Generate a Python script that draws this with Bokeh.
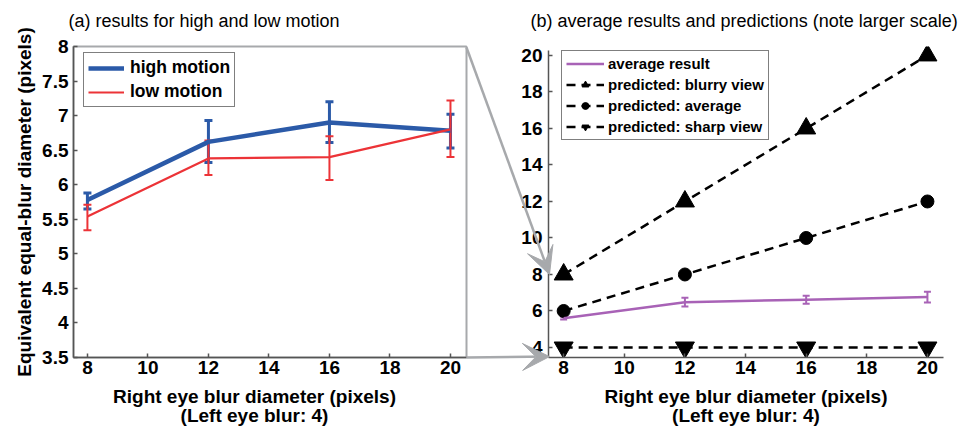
from bokeh.plotting import figure
from bokeh.layouts import GridBox
from bokeh.models import (ColumnDataSource, Whisker, TeeHead, Legend, LegendItem,
                          FixedTicker, Label, Arrow, VeeHead, Range1d)
from bokeh.embed import file_html
from bokeh.resources import INLINE

# ---------------- data ----------------
blur_right = [8, 12, 16, 20]

high_mean = [5.78, 6.62, 6.90, 6.78]
high_lo = [5.65, 6.32, 6.61, 6.53]
high_hi = [5.88, 6.93, 7.20, 7.02]

low_mean = [5.54, 6.38, 6.40, 6.80]
low_lo = [5.34, 6.14, 6.07, 6.40]
low_hi = [5.71, 6.64, 6.70, 7.22]

avg_mean = [5.60, 6.48, 6.62, 6.76]
avg_lo = [5.53, 6.25, 6.40, 6.47]
avg_hi = [5.68, 6.72, 6.84, 7.06]

pred_blurry = [8, 12, 16, 20]
pred_average = [6, 8, 10, 12]
pred_sharp = [4, 4, 4, 4]

x_ticks = [8, 10, 12, 14, 16, 18, 20]
left_y_ticks = [3.5, 4, 4.5, 5, 5.5, 6, 6.5, 7, 7.5, 8]
left_y_labels = ["3.5", "4", "4.5", "5", "5.5", "6", "6.5", "7", "7.5", "8"]
right_y_ticks = [4, 6, 8, 10, 12, 14, 16, 18, 20]

title_a = "(a)  results for high and low motion"
title_b = "(b)  average results and predictions (note larger scale)"
x_label_1 = "Right eye blur diameter (pixels)"
x_label_2 = "(Left eye blur: 4)"
y_label = "Equivalent equal-blur diameter (pixels)"

# ---------------- style / layout ----------------
FONT = "Liberation Sans"
BLUE = "#2b5aa8"
RED = "#ec3337"
PURPLE = "#a862b6"
GRAY = "#a7a9ac"
AXIS = "#555555"

W, H = 979, 427
SPLIT = 468                      # left canvas ends here
L_FRAME = (73, 466, 46, 357)     # page pixels: left, right, top, bottom
R_FRAME = (548, 943, 46, 357)
L_X = (7.54, 20.53)
L_Y = (3.5, 8.0)
R_X = (7.5, 20.53)
R_Y = (3.452, 20.49)


def to_px(x, y, frame, xr, yr):
    px = frame[0] + (x - xr[0]) * (frame[1] - frame[0]) / (xr[1] - xr[0])
    py = frame[3] - (y - yr[0]) * (frame[3] - frame[2]) / (yr[1] - yr[0])
    return px, py


def style_axes(p):
    for ax in (p.xaxis[0], p.yaxis[0]):
        ax.axis_line_color = AXIS
        ax.axis_line_width = 1.5
        ax.major_tick_line_color = AXIS
        ax.major_tick_line_width = 1.5
        ax.major_tick_in = 4
        ax.major_tick_out = 0
        ax.minor_tick_line_color = None
        ax.major_label_text_font = FONT
        ax.major_label_text_font_style = "bold"
        ax.major_label_text_font_size = "19px"
        ax.major_label_text_color = "black"
    p.xaxis[0].major_label_standoff = 3
    p.yaxis[0].major_label_standoff = 5
    p.xgrid.visible = False
    p.ygrid.visible = False
    p.background_fill_color = None
    p.border_fill_color = None
    p.frame_align = False


# ---------------- left panel ----------------
pl = figure(width=SPLIT, height=H, output_backend="svg", toolbar_location=None,
            x_range=Range1d(*L_X), y_range=Range1d(*L_Y),
            min_border_left=L_FRAME[0], min_border_right=SPLIT - L_FRAME[1],
            min_border_top=L_FRAME[2], min_border_bottom=H - L_FRAME[3])
pl.outline_line_color = GRAY
pl.outline_line_width = 2
style_axes(pl)
pl.xaxis[0].ticker = FixedTicker(ticks=x_ticks)
pl.yaxis[0].ticker = FixedTicker(ticks=left_y_ticks)
pl.yaxis[0].major_label_overrides = {t: s for t, s in zip(left_y_ticks, left_y_labels)}
pl.yaxis[0].axis_label = y_label
pl.yaxis[0].axis_label_text_font = FONT
pl.yaxis[0].axis_label_text_font_style = "bold"
pl.yaxis[0].axis_label_text_font_size = "19px"
pl.yaxis[0].axis_label_text_color = "black"
pl.yaxis[0].axis_label_standoff = 4

src_h = ColumnDataSource(dict(x=blur_right, y=high_mean, lo=high_lo, hi=high_hi))
src_l = ColumnDataSource(dict(x=blur_right, y=low_mean, lo=low_lo, hi=low_hi))

pl.add_layout(Whisker(source=src_h, base="x", lower="lo", upper="hi",
                      line_color=BLUE, line_width=3,
                      upper_head=TeeHead(size=8, line_color=BLUE, line_width=3),
                      lower_head=TeeHead(size=8, line_color=BLUE, line_width=3)))
r_high = pl.line("x", "y", source=src_h, line_color=BLUE, line_width=4.5)
pl.add_layout(Whisker(source=src_l, base="x", lower="lo", upper="hi",
                      line_color=RED, line_width=2,
                      upper_head=TeeHead(size=8, line_color=RED, line_width=2),
                      lower_head=TeeHead(size=8, line_color=RED, line_width=2)))
r_low = pl.line("x", "y", source=src_l, line_color=RED, line_width=2.2)

LF_H = L_FRAME[3] - L_FRAME[2]
leg_l = Legend(items=[LegendItem(label="high motion", renderers=[r_high]),
                      LegendItem(label="low motion", renderers=[r_low])],
               location=(10, LF_H - 10 - 51), orientation="vertical",
               border_line_color="black", border_line_width=1.5,
               label_text_font=FONT, label_text_font_style="bold",
               label_text_font_size="17.5px", label_text_color="black",
               glyph_width=36, glyph_height=20, label_height=20,
               label_standoff=6, spacing=3, padding=4, margin=0,
               background_fill_color="white", background_fill_alpha=1.0)
pl.add_layout(leg_l)

# ---------------- right panel ----------------
pr = figure(width=W - SPLIT, height=H, output_backend="svg", toolbar_location=None,
            x_range=Range1d(*R_X), y_range=Range1d(*R_Y),
            min_border_left=R_FRAME[0] - SPLIT, min_border_right=W - R_FRAME[1],
            min_border_top=R_FRAME[2], min_border_bottom=H - R_FRAME[3])
pr.outline_line_color = None
style_axes(pr)
pr.xaxis[0].ticker = FixedTicker(ticks=x_ticks)
pr.yaxis[0].ticker = FixedTicker(ticks=right_y_ticks)
pr.yaxis[0].bounds = (R_Y[0], 20.27)
pr.yaxis[0].major_label_standoff = 6

src_a = ColumnDataSource(dict(x=blur_right, y=avg_mean, lo=avg_lo, hi=avg_hi))
src_p = ColumnDataSource(dict(x=blur_right, blurry=pred_blurry, avg=pred_average, sharp=pred_sharp))

DASH = "9 6"
rb_l = pr.line("x", "blurry", source=src_p, line_color="black", line_width=2.5, line_dash=DASH)
rb_m = pr.scatter("x", "blurry", source=src_p, marker="triangle", size=19, color="black")
ra_l = pr.line("x", "avg", source=src_p, line_color="black", line_width=2.5, line_dash=DASH)
ra_m = pr.scatter("x", "avg", source=src_p, marker="circle", size=13, color="black")
rs_l = pr.line("x", "sharp", source=src_p, line_color="black", line_width=2.5, line_dash=DASH)
rs_m = pr.scatter("x", "sharp", source=src_p, marker="inverted_triangle", size=19, color="black")

pr.add_layout(Whisker(source=src_a, base="x", lower="lo", upper="hi",
                      line_color=PURPLE, line_width=2,
                      upper_head=TeeHead(size=7, line_color=PURPLE, line_width=2),
                      lower_head=TeeHead(size=7, line_color=PURPLE, line_width=2)))
r_avg = pr.line("x", "y", source=src_a, line_color=PURPLE, line_width=2.5)

RF_H = R_FRAME[3] - R_FRAME[2]
leg_r = Legend(items=[LegendItem(label="average result", renderers=[r_avg]),
                      LegendItem(label="predicted: blurry view", renderers=[rb_l, rb_m]),
                      LegendItem(label="predicted: average", renderers=[ra_l, ra_m]),
                      LegendItem(label="predicted: sharp view", renderers=[rs_l, rs_m])],
               location=(13, RF_H - 9 - 85), orientation="vertical",
               border_line_color="black", border_line_width=1.5,
               label_text_font=FONT, label_text_font_style="bold",
               label_text_font_size="15px", label_text_color="black",
               glyph_width=38, glyph_height=17, label_height=17,
               label_standoff=4, spacing=4, padding=4, margin=0,
               background_fill_color="white", background_fill_alpha=1.0)
pr.add_layout(leg_r)

# ---------------- overlay: panel titles, x-axis captions, zoom arrows ----------------
ov = figure(width=W, height=H, output_backend="svg", toolbar_location=None,
            x_range=Range1d(0, W), y_range=Range1d(H, 0),
            x_axis_type=None, y_axis_type=None,
            min_border_left=0, min_border_right=0, min_border_top=0, min_border_bottom=0)
ov.outline_line_color = None
ov.background_fill_color = None
ov.border_fill_color = None
ov.xgrid.visible = False
ov.ygrid.visible = False
ov.frame_align = False

for (lx, txt) in ((68, title_a), (530, title_b)):
    ov.add_layout(Label(x=lx, y=20, text=txt, text_font=FONT, text_font_size="18px",
                        text_baseline="middle", text_align="left", text_color="black"))
for cx in (254, (R_FRAME[0] + R_FRAME[1]) / 2):
    for (cy, txt) in ((396, x_label_1), (415, x_label_2)):
        ov.add_layout(Label(x=cx, y=cy, text=txt, text_font=FONT, text_font_style="bold",
                            text_font_size="19px", text_baseline="middle",
                            text_align="center", text_color="black"))

# arrows: from the left box corners (y = 8 and y = 3.5) to the same values on the right axis
_, top_tip_y = to_px(R_X[0], L_Y[1], R_FRAME, R_X, R_Y)
_, bot_tip_y = to_px(R_X[0], L_Y[0], R_FRAME, R_X, R_Y)
tip_x = R_FRAME[0] + 1
for (sy, ey) in ((L_FRAME[2] + 1, top_tip_y), (L_FRAME[3], bot_tip_y)):
    ov.add_layout(Arrow(end=VeeHead(size=27, fill_color=GRAY, line_color=GRAY, line_width=1),
                        x_start=L_FRAME[1], y_start=sy, x_end=tip_x, y_end=ey,
                        line_color=GRAY, line_width=2.5))

layout = GridBox(children=[(pl, 0, 0), (pr, 0, 1), (ov, 0, 0, 1, 2)])
open("out.html", "w").write(file_html(layout, INLINE))
